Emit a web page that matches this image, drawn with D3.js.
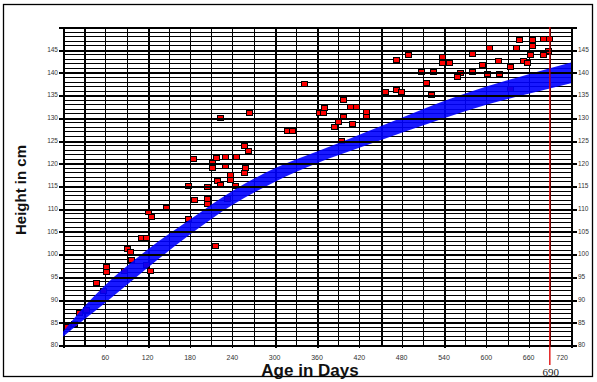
<!DOCTYPE html>
<html>
<head>
<meta charset="utf-8">
<script src="https://cdn.jsdelivr.net/npm/d3@7"></script>
<style>
  html, body { margin: 0; padding: 0; background: #fff; }
  svg { display: block; }
</style>
</head>
<body>
<svg id="chart" width="597" height="382"></svg>
<script>
// ---------- data ----------
const pointDays = [5, 15.6, 23, 32.6, 46.8, 57, 61, 61, 86, 90, 95.5, 96, 111, 117, 117, 123, 120.6, 125, 146.6, 177, 185, 177,
  222.7, 264, 318, 325, 257, 262, 184, 211, 211, 217, 230, 245.4, 230, 258, 257, 236.5, 236.5, 218.5, 222.7, 244, 204, 204, 204, 232.6, 215,
  341, 472, 489, 508, 524, 514.5, 522, 457, 472, 479.5, 397, 407, 415, 370, 363, 369, 429, 429, 397, 390, 384, 409.5, 394,
  647, 665, 665, 681, 689.5, 604, 642, 687.6, 537, 537, 546.6, 579, 662, 680, 616, 652.6, 658, 594, 633, 562, 559, 579, 600.5, 618.5, 634];
const pointHeights = [84.0, 84.7, 87.2, 87.9, 93.8, 92.0, 97.2, 96.2, 96.4, 101.2, 100.5, 98.9, 103.6, 103.6, 97.7, 96.5, 109.3, 108.2, 110.3, 115.1, 112.0, 107.8,
  130.1, 131.1, 127.2, 127.2, 123.9, 122.9, 121.1, 120.1, 119.1, 121.2, 121.4, 121.6, 119.5, 119.1, 117.9, 117.6, 116.5, 116.3, 115.4, 115.1, 114.8, 112.2, 111.2, 112.2, 101.9,
  137.5, 142.8, 143.9, 140.2, 140.2, 137.7, 135.1, 135.8, 136.3, 135.8, 134.1, 132.4, 132.4, 132.2, 131.2, 131.1, 131.4, 130.3, 130.3, 129.2, 128.0, 128.8, 125.1,
  147.2, 147.2, 145.9, 147.4, 147.5, 145.5, 145.5, 144.9, 143.4, 142.1, 142.1, 144.1, 143.9, 143.9, 142.7, 142.6, 142.1, 141.7, 141.4, 139.9, 139.0, 140.2, 139.7, 139.7, 136.5];

const bandDays  = [0,    30,   60,   120,   180,   240,   300,   360,   420,   480,   540,   600,   660,   720];
const bandLower = [81.8, 85.6, 89.3, 97.0, 104.3, 110.8, 115.9, 120.0, 123.4, 126.7, 129.9, 132.9, 135.3, 137.6];
const bandUpper = [82.9, 88.4, 93.2, 101.0, 107.6, 113.9, 118.9, 122.6, 126.3, 130.0, 133.7, 136.9, 139.6, 142.2];

const xTickLabels = [60, 120, 180, 240, 300, 360, 420, 480, 540, 600, 660, 720];
const yTickLabels = [80, 85, 90, 95, 100, 105, 110, 115, 120, 125, 130, 135, 140, 145];
const markerDay = 690;
const markerLabel = "690";
const xTitle = "Age in Days";
const yTitle = "Height in cm";

// ---------- drawing ----------
const svg = d3.select("#chart");
const x = d3.scaleLinear().domain([0, 720]).range([63, 571]);
const y = d3.scaleLinear().domain([80, 150]).range([345, 27]);
const crisp = v => Math.round(v) + 0.5;
const isMajor = v => v % 5 === 0;

// outer frame
svg.append("rect").attr("x", 3.5).attr("y", 4.5).attr("width", 589).attr("height", 372)
  .attr("fill", "none").attr("stroke", "#000").attr("stroke-width", 1.3);

// background grid: thin horizontal lines and vertical lines
const grid = svg.append("g").attr("shape-rendering", "crispEdges").attr("stroke", "#000");
grid.selectAll("line.h").data(d3.range(80, 151, 1).filter(v => !isMajor(v))).join("line")
  .attr("x1", 63).attr("x2", 571)
  .attr("y1", v => crisp(y(v))).attr("y2", v => crisp(y(v)))
  .attr("stroke-width", 1);
const thickDays = [0, 30, 120, 300, 360, 450, 540, 720];
grid.selectAll("line.v").data(d3.range(0, 721, 30)).join("line")
  .attr("x1", v => crisp(x(v))).attr("x2", v => crisp(x(v)))
  .attr("y1", y(150)).attr("y2", v => v % 60 === 0 ? y(80) + 3 : y(80))
  .attr("stroke-width", v => thickDays.includes(v) ? 2 : 1);

// points
const pts = d3.range(pointDays.length).map(i => ({ d: pointDays[i], h: pointHeights[i] }));
svg.append("g").attr("shape-rendering", "crispEdges").selectAll("rect").data(pts).join("rect")
  .attr("x", p => Math.round(x(p.d) - 3) + 0.5).attr("y", p => Math.round(y(p.h) - 2.5) + 0.5)
  .attr("width", 6).attr("height", 5)
  .attr("fill", "#ff0000").attr("stroke", "#000").attr("stroke-width", 1);

// band
const bandData = bandDays.map((d, i) => ({ d, lo: bandLower[i], hi: bandUpper[i] }));
svg.append("path").datum(bandData)
  .attr("d", d3.area().x(b => x(b.d)).y0(b => y(b.lo)).y1(b => y(b.hi)).curve(d3.curveMonotoneX))
  .attr("fill", "#0000ff").attr("fill-opacity", 0.9);

// major horizontal lines on top
svg.append("g").attr("shape-rendering", "crispEdges").attr("stroke", "#000")
  .selectAll("line").data(d3.range(80, 151, 5)).join("line")
  .attr("x1", 59).attr("x2", 577)
  .attr("y1", v => crisp(y(v))).attr("y2", v => crisp(y(v)))
  .attr("stroke-width", 2);

// marker line
svg.append("line").attr("x1", x(markerDay)).attr("x2", x(markerDay))
  .attr("y1", y(150)).attr("y2", 365).attr("stroke", "#e00000").attr("stroke-width", 1.3);
svg.append("text").attr("x", x(markerDay) + 1).attr("y", 376).attr("text-anchor", "middle")
  .attr("font-family", "Liberation Serif, serif").attr("font-size", 11).attr("fill", "#222")
  .text(markerLabel);

// tick labels
const tickFont = "Liberation Sans, Arial, sans-serif";
svg.append("g").selectAll("text").data(yTickLabels).join("text")
  .attr("x", 58).attr("y", v => y(v)).attr("dy", "0.35em").attr("text-anchor", "end")
  .attr("font-family", tickFont).attr("font-size", 6.5).attr("fill", "#333").text(v => v);
svg.append("g").selectAll("text").data(yTickLabels).join("text")
  .attr("x", 578).attr("y", v => y(v)).attr("dy", "0.35em").attr("text-anchor", "start")
  .attr("font-family", tickFont).attr("font-size", 6.5).attr("fill", "#333").text(v => v);
svg.append("g").selectAll("text").data(xTickLabels).join("text")
  .attr("x", (v, i) => i === xTickLabels.length - 1 ? x(v) - 3 : x(v))
  .attr("y", 358).attr("dy", "0.35em")
  .attr("text-anchor", (v, i) => i === xTickLabels.length - 1 ? "end" : "middle")
  .attr("font-family", tickFont).attr("font-size", 7).attr("fill", "#333").text(v => v);

// titles
svg.append("text").attr("x", 310).attr("y", 376).attr("text-anchor", "middle")
  .attr("font-family", tickFont).attr("font-weight", "bold").attr("font-size", 17).attr("fill", "#111")
  .text(xTitle);
svg.append("text").attr("transform", "translate(26,190) rotate(-90)").attr("text-anchor", "middle")
  .attr("font-family", tickFont).attr("font-weight", "bold").attr("font-size", 15).attr("fill", "#111")
  .text(yTitle);
</script>
</body>
</html>
